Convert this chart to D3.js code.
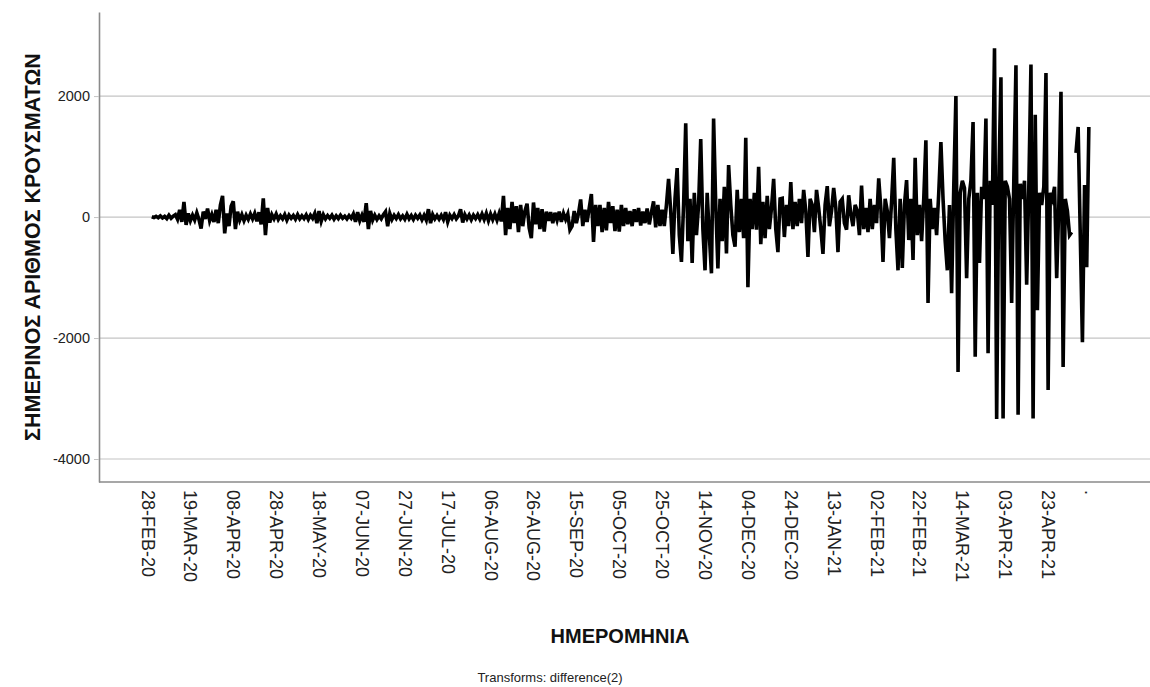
<!DOCTYPE html>
<html>
<head>
<meta charset="utf-8">
<script src="https://cdn.jsdelivr.net/npm/d3@7"></script>
<style>
  html, body { margin: 0; padding: 0; background: #fff; }
  svg { display: block; font-family: "Liberation Sans", Arial, sans-serif; }
</style>
</head>
<body>
<svg id="chart" width="1150" height="687"></svg>
<script>
// Case numbers that carry a date label (every 20th case), and their labels
const tickCases = [0, 20, 40, 60, 80, 100, 120, 140, 160, 180, 200, 220,
  240, 260, 280, 300, 320, 340, 360, 380, 400, 420, 440];
const tickLabels = ['28-FEB-20', '19-MAR-20', '08-APR-20', '28-APR-20', '18-MAY-20',
  '07-JUN-20', '27-JUN-20', '17-JUL-20', '06-AUG-20', '26-AUG-20', '15-SEP-20',
  '05-OCT-20', '25-OCT-20', '14-NOV-20', '04-DEC-20', '24-DEC-20', '13-JAN-21',
  '02-FEB-21', '22-FEB-21', '14-MAR-21', '03-APR-21', '23-APR-21', '.'];

const yTicks = [2000, 0, -2000, -4000];

// difference(2) leaves the first two cases empty
const firstCase = 2;

// daily cases, second difference (one value per case, null = missing)
const diffValues = [
  // Mar 20
  5, -8, 12, -10, 20, -15, 10, -25, 30, -20, 15, 40, -35,
  120, -80, 250, -130, 60, -60,
  30, -50, 70, -40, -190, 90, -30, 140, -60, 40,
  // Apr 20
  -80, 120, -100, 200, 350, -270, 60, -150, 180, 260, -200, 90,
  -50, 40, -60, 30, -40, 50, -30, 60, -70, 80,
  -120, 310, -300, 150, -90,
  // May - Jun 20
  40, -30, 50, -40, 20, -30, 40, -50, 30, -20, 25, -35, 40, -30, 20, -25, 35, -40, 30, -20,
  60, -100, 100, -70, 40,
  -30, 25, -20, 30, -35, 20, -25, 30, -20, 15, -30, 25, -20,
  50, -80, 80, -60, 30,
  -80, 230, -200, 100, -50,
  30, -40, 20, -30, 40,
  90, -150, 60, -40,
  // Jul 20
  30, -25, 40, -30, 20, -35, 45, -30, 25, -40, 30, -20, 35, -45, 30, -50,
  130, -100,
  40, -30, 25, -35, 30, -40,
  80, -80,
  30, -25, 40, -30, 20,
  130, -90,
  // Aug 20
  40, -30, 35, -45, 30, -25, 40, -35, 50, -40,
  60, -60, 50, -40,
  50, -50, 60, -70,
  350, -300,
  150, -200, 250, -100, 180, -250, 200, -150, 100, 220, -180, -350, 240, -120, 150, -200, 130, -240, 90,
  // Sep 20
  -60, 80, -100, 70, -50, 90, -80, 60, -40, 50,
  -210, -150, 100, -100, 60,
  290, -150, 120, -80, 150,
  380, -410, 200, -150,
  200, -250, 150, -220, 250, -100, 180, -230, 120, -240, 200, -150,
  // Oct 20
  150, -120, 100, -150, 130, -80, 150, -140, 90, -100, 140, -120, 80,
  260, -170, 200, -150, 120,
  -150, 200, 630, 100, -610, 300, 810, -300, -740, 200,
  1550, -400, 300, -760, 400, -300, 200, 1290, -200, -880,
  // Nov 20
  400, -300, -930, 1630, 200, -850, 300, -400, 500, -600,
  860, 200, -300, -490, 450, -250, 300, -350, 1310, -1160,
  300, -200, 400, -210, 830, -450, 250, -350, 350, -200,
  150, 630, -200, -580, 300, 310, -330, 200, -150, 580,
  // Dec 20
  -200, 250, -150, 300, -100, 450, 100, -660, 300, 200,
  -250, 450, 150, -200, -610, 200, 510, -150, 100, 480,
  150, -580, 250, 300, -100, -210, 360, 50, -150, 200,
  // Jan 21
  100, -300, 520, -200, 150, -250, 300, -200, 200, -100,
  640, 150, -740, 300, 100, -350, 250, 980, -200, -880,
  300, -840, 200, 610, -380, 300, -710, 980, -300, 200,
  -400, 300, 1270, -1420,
  // Feb 21
  300, -200, 150, -300, 400, 1240, 300, -400, -880, 200,
  -1260, 500, 2000, -2560, 400, 600, 480, -1010, 300, 600,
  1570, -2310, 400, -760, 500, 300, 1630, -2250, 600, 200,
  2790, -3340, 600, 2310, -3330,
  // Apr 21
  600, 500, 300, -1420, 600, 2510, -3270, 550, 300, 600,
  -1120, 500, 2520, -3330, 1690, -1540, 400, 200, 500, 2380,
  -2860, 400, 300, 500, -1010, 200, 2070, -2480, 300, 100,
  -300, -250,
  null,
  1060, 1490, -300, -2070, 530, -830, 1490
];

const series = diffValues.map((v, i) => ({ caseNo: firstCase + i, value: v }));

function renderChart() {
  const plot = { left: 99, top: 12, bottom: 482, right: 1150 };

  const svg = d3.select('#chart');

  const xScale = d3.scaleLinear().domain([0, 440]).range([147.5, 1091]);
  const yScale = d3.scaleLinear().domain([-4380, 3390]).range([plot.bottom, plot.top]);

  // Gridlines
  svg.append('g')
    .attr('class', 'gridlines')
    .selectAll('line')
    .data(yTicks)
    .join('line')
    .attr('x1', plot.left)
    .attr('x2', plot.right)
    .attr('y1', (d) => yScale(d))
    .attr('y2', (d) => yScale(d))
    .attr('stroke', '#c4c4c4')
    .attr('stroke-width', 1.2);

  // Y axis (plain numbers, ASCII minus as in SPSS)
  const yAxis = svg.append('g')
    .attr('transform', `translate(${plot.left}, 0)`)
    .call(d3.axisLeft(yScale)
      .tickValues(yTicks)
      .tickFormat((d) => String(d))
      .tickSize(5)
      .tickSizeOuter(0)
      .tickPadding(4));
  yAxis.select('.domain').attr('stroke', '#8a8a8a').attr('stroke-width', 1.6);
  yAxis.selectAll('.tick line').attr('stroke', '#c4c4c4');
  yAxis.selectAll('text')
    .attr('font-size', '14.5px')
    .attr('fill', '#222')
    .style('font-family', '"Liberation Sans", Arial, sans-serif');

  // X axis (frame line drawn across the whole width, as in the original)
  svg.append('line')
    .attr('x1', plot.left)
    .attr('x2', plot.right)
    .attr('y1', plot.bottom)
    .attr('y2', plot.bottom)
    .attr('stroke', '#8a8a8a')
    .attr('stroke-width', 1.6);

  const xAxis = svg.append('g')
    .attr('transform', `translate(0, ${plot.bottom})`)
    .call(d3.axisBottom(xScale)
      .tickValues(tickCases)
      .tickFormat((d, i) => tickLabels[i])
      .tickSize(0));
  xAxis.select('.domain').remove();
  xAxis.selectAll('text')
    .attr('transform', 'rotate(90)')
    .attr('x', 8)
    .attr('y', 0)
    .attr('dy', '0.36em')
    .attr('text-anchor', 'start')
    .attr('font-size', '18px')
    .attr('fill', '#222')
    .style('font-family', '"Liberation Sans", Arial, sans-serif');

  // Sequence line
  const line = d3.line()
    .defined((d) => d.value !== null)
    .x((d) => xScale(d.caseNo))
    .y((d) => yScale(d.value));

  svg.append('path')
    .datum(series)
    .attr('d', line)
    .attr('fill', 'none')
    .attr('stroke', '#000')
    .attr('stroke-width', 3.6);

  // Titles
  svg.append('text')
    .attr('transform', `translate(33, 247) rotate(-90)`)
    .attr('text-anchor', 'middle')
    .attr('dominant-baseline', 'central')
    .attr('font-size', '21.5px')
    .attr('font-weight', 'bold')
    .attr('fill', '#111')
    .text('ΣΗΜΕΡΙΝΟΣ ΑΡΙΘΜΟΣ ΚΡΟΥΣΜΑΤΩΝ');

  svg.append('text')
    .attr('x', 620)
    .attr('y', 643)
    .attr('text-anchor', 'middle')
    .attr('font-size', '20px')
    .attr('font-weight', 'bold')
    .attr('fill', '#111')
    .text('ΗΜΕΡΟΜΗΝΙΑ');

  svg.append('text')
    .attr('x', 550)
    .attr('y', 682)
    .attr('text-anchor', 'middle')
    .attr('font-size', '13px')
    .attr('fill', '#222')
    .text('Transforms: difference(2)');
}

renderChart();
</script>
</body>
</html>
